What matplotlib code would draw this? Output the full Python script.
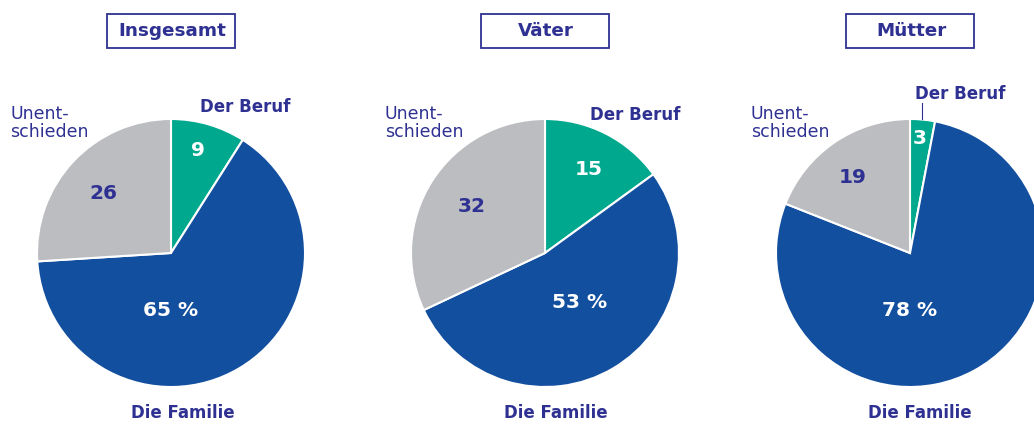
import matplotlib
matplotlib.use("Agg")
from matplotlib import pyplot as plt
from matplotlib.patches import Rectangle

plt.rcParams['font.family'] = ['DejaVu Sans']

titles = ["Insgesamt", "Väter", "Mütter"]
beruf = [9, 15, 3]
familie = [65, 53, 78]
unentschieden = [26, 32, 19]

c_beruf = "#00a88e"
c_familie = "#134f9f"
c_unent = "#bcbdc0"
c_text = "#2e3192"

H = 425
fig = plt.figure(figsize=(10.34, 4.25), dpi=100)
ax = fig.add_axes([0, 0, 1, 1])
ax.set_xlim(0, 1034)
ax.set_ylim(0, H)
ax.set_aspect("equal")
ax.axis("off")

# pixel positions (x, y from top)
centers = [(171, 253), (545, 253), (910, 253)]
radius = 134
beruf_lbl = [(245, 107), (635, 115), (960, 94)]
unent_lbl = [10, 385, 751]
nb_pos = [(198, 150), (589, 169), (920, 138)]
nu_pos = [(103, 193), (472, 206), (853, 177)]
nf_pos = [(171, 310), (580, 302), (910, 310)]
fam_lbl = [(183, 413), (556, 413), (920, 413)]

for i in range(3):
    cx, cy = centers[i]
    ax.pie([beruf[i], familie[i], unentschieden[i]],
           colors=[c_beruf, c_familie, c_unent],
           center=(cx, H - cy), radius=radius,
           startangle=90, counterclock=False,
           wedgeprops=dict(edgecolor="white", linewidth=1.5))

    # title box
    ax.add_patch(Rectangle((cx - 64, H - 48), 128, 34, fill=False,
                           edgecolor=c_text, linewidth=1.3))
    ax.text(cx + 1, H - 31, titles[i], ha="center", va="center",
            fontsize=13.2, fontweight="bold", color=c_text)

    bx, by = beruf_lbl[i]
    ax.text(bx, H - by, "Der Beruf", ha="center", va="center",
            fontsize=12, fontweight="bold", color=c_text)
    ax.text(unent_lbl[i], H - 123, "Unent-\nschieden", ha="left", va="center",
            fontsize=12.5, color=c_text, linespacing=1.05)

    x, y = nb_pos[i]
    ax.text(x, H - y, str(beruf[i]), ha="center", va="center",
            fontsize=14.5, fontweight="bold", color="white")
    x, y = nu_pos[i]
    ax.text(x, H - y, str(unentschieden[i]), ha="center", va="center",
            fontsize=14.5, fontweight="bold", color=c_text)
    x, y = nf_pos[i]
    ax.text(x, H - y, "%d %%" % familie[i], ha="center", va="center",
            fontsize=14.5, fontweight="bold", color="white")
    x, y = fam_lbl[i]
    ax.text(x, H - y, "Die Familie", ha="center", va="center",
            fontsize=12, fontweight="bold", color=c_text)

# leader line for the small slice
ax.plot([922, 922], [H - 103, H - 119], color=c_text, linewidth=0.8)

ax.set_xlim(0, 1034)
ax.set_ylim(0, H)
fig.savefig("out.png", dpi=100)
